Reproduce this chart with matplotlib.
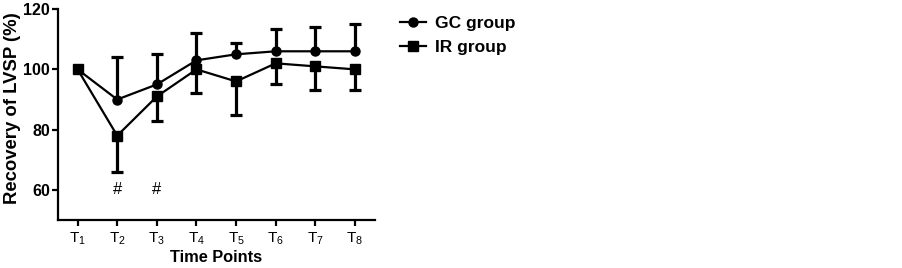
import numpy as np
import matplotlib
matplotlib.use("Agg")
import matplotlib.pyplot as plt

plt.rcParams['font.family'] = ['Liberation Sans', 'DejaVu Sans']
plt.rcParams['mathtext.fontset'] = 'custom'
plt.rcParams['mathtext.rm'] = 'Liberation Sans'

# ── Data ────────────────────────────────────────────────────────
time_labels = [r'T$_{\mathregular{%d}}$' % i for i in range(1, 9)]
gc_mean = [100, 90, 95, 103, 105, 106, 106, 106]
gc_upper = [100, 104, 105, 112, 108.6, 113.3, 114, 115]
ir_mean = [100, 78, 91, 100, 96, 102, 101, 100]
ir_lower = [100, 66, 83, 92, 85, 95, 93, 93]
sig_points = [2, 3]
sig_level = 60

x = np.arange(1, 9)
has_err = x > 1

fig = plt.figure(figsize=(9.03, 2.68), dpi=100)
ax = fig.add_axes([0.064, 0.179, 0.351, 0.787])

# one-sided error bars: GC upward, IR downward
ax.vlines(x[has_err], np.array(gc_mean)[has_err], np.array(gc_upper)[has_err],
          color='black', lw=2.3, zorder=2)
ax.plot(x[has_err], np.array(gc_upper)[has_err], ls='none', marker='_',
        ms=9, mew=2.3, color='black', zorder=2)
ax.vlines(x[has_err], np.array(ir_lower)[has_err], np.array(ir_mean)[has_err],
          color='black', lw=2.3, zorder=2)
ax.plot(x[has_err], np.array(ir_lower)[has_err], ls='none', marker='_',
        ms=9, mew=2.3, color='black', zorder=2)

ax.plot(x, gc_mean, '-o', color='black', lw=1.6, ms=6.5, label='GC group', zorder=3)
ax.plot(x, ir_mean, '-s', color='black', lw=1.6, ms=6.5, label='IR group', zorder=4)

for p in sig_points:
    ax.text(p, sig_level, '#', ha='center', va='center', fontsize=12)

ax.set_xlim(0.5, 8.5)
ax.set_ylim(50, 120)
ax.set_yticks([60, 80, 100, 120])
ax.set_xticks(x)
ax.set_xticklabels(time_labels, fontsize=11)
for lab in ax.get_yticklabels():
    lab.set_fontweight('bold')
    lab.set_fontsize(11.5)

ax.spines['top'].set_visible(False)
ax.spines['right'].set_visible(False)
for s in ['left', 'bottom']:
    ax.spines[s].set_linewidth(1.6)
ax.tick_params(width=1.6, length=4.5)
ax.tick_params(axis='y', pad=1)
ax.tick_params(axis='x', pad=3)

ax.set_xlabel('Time Points', fontsize=11.8, fontweight='bold', labelpad=2)
ax.set_ylabel('Recovery of LVSP (%)', fontsize=13.3, fontweight='bold')
ax.yaxis.set_label_coords(-0.117, 0.53)

ax.legend(loc='upper left', bbox_to_anchor=(1.03, 1.04), frameon=False,
          handlelength=1.5, handletextpad=0.5, labelspacing=0.5,
          prop={'weight': 'bold', 'size': 12.5})

fig.savefig('out.png', dpi=100)
